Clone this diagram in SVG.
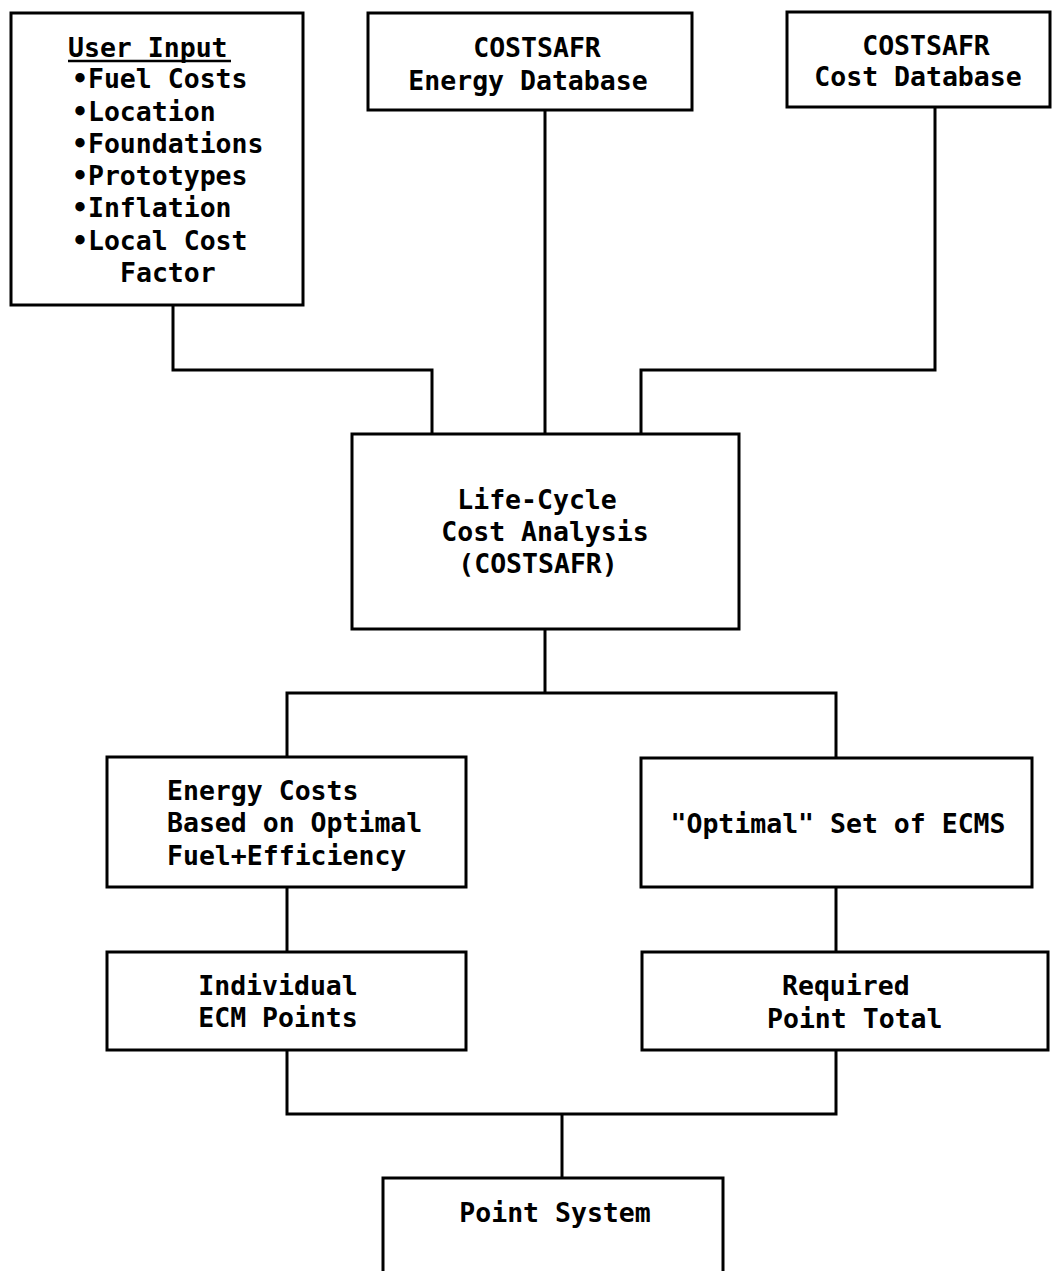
<svg xmlns="http://www.w3.org/2000/svg" width="1052" height="1271" viewBox="0 0 1052 1271">
<style>
.box{fill:#fff;stroke:#000;stroke-width:3}
.ln{fill:none;stroke:#000;stroke-width:3}
text{font-family:"DejaVu Sans Mono","Liberation Mono",monospace;font-weight:bold;font-size:26.5px;fill:#000}
.m{text-anchor:middle}
</style>
<rect width="1052" height="1271" fill="#fff"/>
<g id="connectors">
<polyline class="ln" points="173,305 173,370 432,370 432,434"/>
<line class="ln" x1="545" y1="110" x2="545" y2="434"/>
<polyline class="ln" points="935,107 935,370 641,370 641,434"/>
<line class="ln" x1="545" y1="629" x2="545" y2="693"/>
<polyline class="ln" points="287,757 287,693 836,693 836,758"/>
<line class="ln" x1="287" y1="887" x2="287" y2="952"/>
<line class="ln" x1="836" y1="887" x2="836" y2="952"/>
<polyline class="ln" points="287,1050 287,1114 836,1114 836,1050"/>
<line class="ln" x1="562" y1="1114" x2="562" y2="1178"/>
</g>
<g id="user-input">
<rect class="box" x="11" y="13" width="292" height="292"/>
<text x="68" y="57">User Input</text>
<line x1="68" y1="61" x2="231" y2="61" stroke="#000" stroke-width="2.5"/>
<text x="72" y="88">•Fuel Costs</text>
<text x="72" y="121">•Location</text>
<text x="72" y="153">•Foundations</text>
<text x="72" y="185">•Prototypes</text>
<text x="72" y="217">•Inflation</text>
<text x="72" y="250">•Local Cost</text>
<text x="120" y="282">Factor</text>
</g>
<g id="energy-db">
<rect class="box" x="368" y="13" width="324" height="97"/>
<text class="m" x="537" y="57">COSTSAFR</text>
<text class="m" x="528" y="90">Energy Database</text>
</g>
<g id="cost-db">
<rect class="box" x="787" y="12" width="263" height="95"/>
<text class="m" x="926" y="55">COSTSAFR</text>
<text class="m" x="918" y="86">Cost Database</text>
</g>
<g id="lcca">
<rect class="box" x="352" y="434" width="387" height="195"/>
<text class="m" x="537" y="509">Life-Cycle</text>
<text class="m" x="545" y="541">Cost Analysis</text>
<text class="m" x="538" y="573">(COSTSAFR)</text>
</g>
<g id="energy-costs">
<rect class="box" x="107" y="757" width="359" height="130"/>
<text x="167" y="800">Energy Costs</text>
<text x="167" y="832">Based on Optimal</text>
<text x="167" y="865">Fuel+Efficiency</text>
</g>
<g id="optimal-set">
<rect class="box" x="641" y="758" width="391" height="129"/>
<text class="m" x="838" y="833">"Optimal" Set of ECMS</text>
</g>
<g id="individual-ecm">
<rect class="box" x="107" y="952" width="359" height="98"/>
<text class="m" x="278" y="995">Individual</text>
<text class="m" x="278" y="1027">ECM Points</text>
</g>
<g id="required-total">
<rect class="box" x="642" y="952" width="406" height="98"/>
<text x="782" y="995">Required</text>
<text x="767" y="1028">Point Total</text>
</g>
<g id="point-system">
<rect class="box" x="383" y="1178" width="340" height="110"/>
<text class="m" x="555" y="1222">Point System</text>
</g>
</svg>
